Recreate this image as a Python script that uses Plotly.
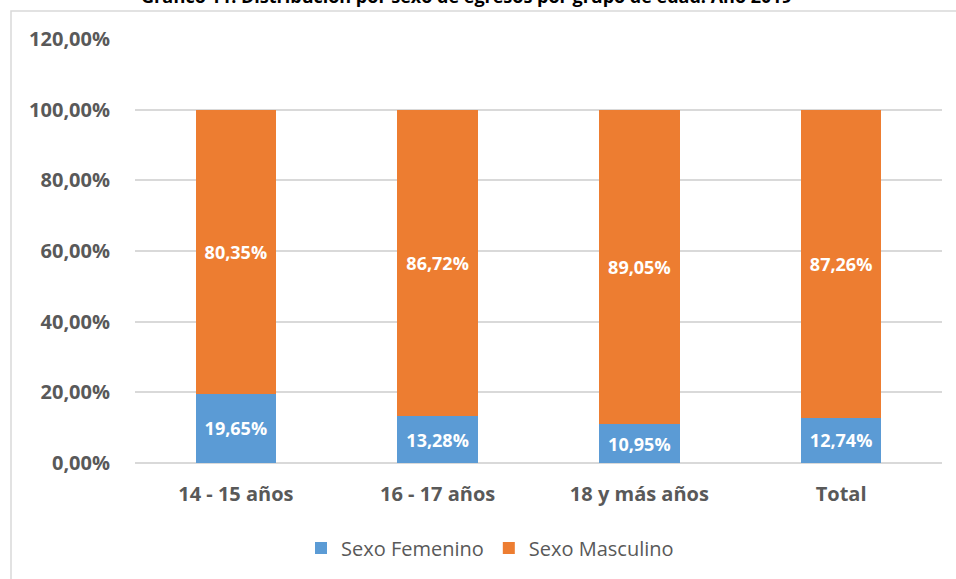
import plotly.graph_objects as go

categories = ["14 - 15 años", "16 - 17 años", "18 y más años", "Total"]
femenino = [19.65, 13.28, 10.95, 12.74]
masculino = [80.35, 86.72, 89.05, 87.26]
series_names = ["Sexo Femenino", "Sexo Masculino"]
title_text = "Gráfico 11. Distribución por sexo de egresos por grupo de edad. Año 2019"

W, H = 956, 579
L, R, T, B = 135, 14, 39, 116
pw, ph = W - L - R, H - T - B

def px_x(x):
    return (x - L) / pw

def px_y(y):
    return (H - B - y) / ph

FONT = "Open Sans"
GREY = "#595959"

fig = go.Figure()
fig.add_trace(go.Bar(
    x=categories, y=femenino, name=series_names[0],
    marker=dict(color="#5B9BD5", line=dict(width=0)),
    texttemplate="%{y:.2f}%", textposition="inside", insidetextanchor="middle",
    textfont=dict(family=FONT, size=18, color="white", weight="bold"),
    constraintext="none", hoverinfo="skip",
))
fig.add_trace(go.Bar(
    x=categories, y=masculino, name=series_names[1],
    marker=dict(color="#ED7D31", line=dict(width=0)),
    texttemplate="%{y:.2f}%", textposition="inside", insidetextanchor="middle",
    textfont=dict(family=FONT, size=18, color="white", weight="bold"),
    constraintext="none", hoverinfo="skip",
))

fig.update_layout(
    width=W, height=H,
    barmode="stack", bargap=0.6,
    separators=",.",
    plot_bgcolor="white", paper_bgcolor="white",
    margin=dict(l=L, r=R, t=T, b=B, pad=0),
    font=dict(family=FONT, color=GREY),
    showlegend=True,
    legend=dict(
        orientation="h", xref="container", yref="container",
        x=490 / W, xanchor="center", y=1 - 548 / H, yanchor="middle",
        font=dict(family=FONT, size=20, color=GREY),
        traceorder="normal", itemsizing="constant",
    ),
    xaxis=dict(
        showgrid=False, showline=False, zeroline=False,
        tickfont=dict(family=FONT, size=20, color=GREY, weight="bold"),
        ticklabelstandoff=17,
    ),
    yaxis=dict(
        range=[0, 120], dtick=20, tickformat=".2f", ticksuffix="%",
        showgrid=True, gridcolor="#d9d9d9", gridwidth=1.5,
        zeroline=True, zerolinecolor="#d9d9d9", zerolinewidth=1.5,
        showline=False,
        tickfont=dict(family=FONT, size=20, color=GREY, weight="bold"),
        ticklabelstandoff=24,
    ),
    shapes=[dict(
        type="rect", xref="paper", yref="paper",
        x0=px_x(11), x1=px_x(975), y0=px_y(600), y1=px_y(11),
        line=dict(color="#d9d9d9", width=1.5), layer="below",
    )],
    annotations=[dict(
        text=title_text, xref="paper", yref="paper",
        x=px_x(466), y=px_y(10), xanchor="center", yanchor="bottom",
        showarrow=False,
        font=dict(family=FONT, size=18, color="black", weight="bold"),
    )],
)

fig.write_html("out.html", config={"displayModeBar": False},
               post_script="document.body.style.margin='0';")
